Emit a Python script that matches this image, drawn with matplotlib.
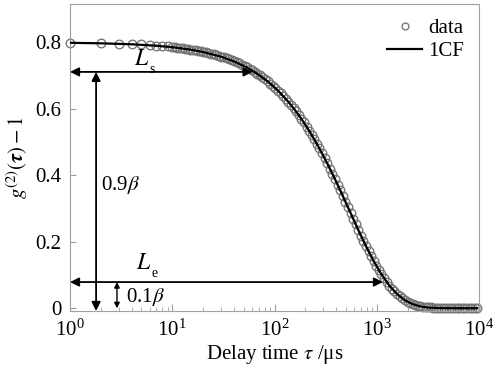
import numpy as np
import matplotlib
matplotlib.use('Agg')
import matplotlib.pyplot as plt
from matplotlib.ticker import FuncFormatter, LogLocator

plt.rcParams['font.family'] = ['Liberation Serif', 'DejaVu Serif']
plt.rcParams['mathtext.fontset'] = 'stix'

# measured correlation data, delay time in us
tau_data = [1, 2, 3, 4, 5, 6, 7, 8, 9, 10, 10.6, 11.2, 11.9, 12.6, 13.4, 14.2, 15, 15.9, 16.9, 17.9,
            19, 20.1, 21.3, 22.6, 24, 25.4, 26.9, 28.5, 30.2, 32, 34, 36, 38, 40, 43, 45, 48, 51, 54, 57,
            60, 64, 68, 72, 76, 81, 86, 91, 96, 102, 108, 115, 122, 129, 137, 145, 154, 163, 173, 183,
            194, 206, 218, 231, 245, 260, 275, 292, 309, 328, 348, 368, 390, 414, 439, 465, 493, 522, 554, 587,
            622, 659, 699, 741, 785, 832, 882, 935, 991, 1050, 1110, 1180, 1250, 1330, 1410, 1490, 1580, 1680, 1780, 1880,
            2000, 2120, 2240, 2380, 2520, 2670, 2830, 3000, 3180, 3370, 3570, 3790, 4010, 4250, 4510, 4780, 5070, 5370, 5690, 6030,
            6400, 6780, 7190, 7620, 8080, 8560, 9070, 9620]
g_data = [0.797, 0.799, 0.796, 0.795, 0.794, 0.792, 0.790, 0.789, 0.788, 0.786, 0.785, 0.784, 0.782, 0.782, 0.781, 0.779, 0.778, 0.777, 0.776, 0.774,
          0.773, 0.771, 0.770, 0.768, 0.766, 0.764, 0.762, 0.760, 0.757, 0.755, 0.752, 0.749, 0.746, 0.744, 0.740, 0.737, 0.733, 0.729, 0.725, 0.721,
          0.717, 0.711, 0.706, 0.701, 0.695, 0.689, 0.683, 0.676, 0.670, 0.663, 0.655, 0.647, 0.638, 0.630, 0.621, 0.612, 0.602, 0.592, 0.581, 0.570,
          0.559, 0.546, 0.534, 0.521, 0.508, 0.494, 0.481, 0.466, 0.451, 0.436, 0.420, 0.405, 0.389, 0.372, 0.355, 0.338, 0.321, 0.304, 0.287, 0.270,
          0.253, 0.236, 0.219, 0.203, 0.187, 0.171, 0.156, 0.142, 0.128, 0.115, 0.102, 0.090, 0.079, 0.068, 0.059, 0.051, 0.043, 0.036, 0.030, 0.025,
          0.020, 0.016, 0.013, 0.010, 0.008, 0.006, 0.005, 0.004, 0.003, 0.003, 0.002, 0.002, 0.001, 0.002, 0.001, 0.000, 0.001, 0.002, 0.000, 0.001,
          0.002, 0.000, 0.001, 0.002, 0.001, 0.000, 0.001, 0.002]

# single-component fit (1CF)
tau_fit = [1, 2, 4, 7, 10, 15, 20.1, 30.2, 40, 54, 68, 86, 108, 137, 163, 194, 231, 275, 328, 390,
           465, 554, 659, 785, 935, 1110, 1330, 1580, 1880, 2240, 2670, 3180, 3790, 4510, 5370, 6400, 7620, 9620]
g_fit = [0.7985, 0.7970, 0.7941, 0.7897, 0.7853, 0.7781, 0.7708, 0.7565, 0.7429, 0.7239, 0.7053, 0.6822, 0.6550, 0.6207, 0.5915, 0.5586, 0.5215, 0.4808, 0.4358, 0.3886,
         0.3382, 0.2868, 0.2361, 0.1870, 0.1416, 0.1024, 0.0681, 0.0429, 0.0246, 0.0126, 0.0057, 0.0023, 0.0010, 0.0006, 0.0004, 0.0003, 0.0003, 0.0003]

# marker levels for Ls / Le
y_09 = 0.711
y_01 = 0.079
tau_s = 61
tau_e = 1150

fig = plt.figure(figsize=(4.95, 3.7), dpi=100)
ax = fig.add_axes([0.1414, 0.1595, 0.8263, 0.8295])

ax.plot(tau_data, g_data, 'o', mfc='none', mec='#747474', mew=0.95, ms=6.2,
        clip_on=False, label='data', zorder=2)
ax.plot(tau_fit, g_fit, '-', color='k', lw=1.6, label='1CF', zorder=3)

ax.set_xscale('log')
ax.set_xlim(1, 1e4)
ax.set_ylim(-0.008, 0.915)
ax.set_yticks([0, 0.2, 0.4, 0.6, 0.8])
ax.yaxis.set_major_formatter(FuncFormatter(lambda v, p: '0' if v == 0 else '%.1f' % v))
ax.xaxis.set_minor_locator(LogLocator(base=10, subs=np.arange(2, 10)))

for s in ax.spines.values():
    s.set_color('#a0a0a0')
    s.set_linewidth(0.8)
ax.tick_params(axis='both', which='both', direction='in', colors='#a0a0a0',
               labelcolor='k', labelsize=15, top=False, right=False)
ax.tick_params(axis='x', which='major', length=5, pad=6)
ax.tick_params(axis='x', which='minor', length=3)
ax.tick_params(axis='y', which='major', length=4, pad=6)

ax.set_xlabel('Delay time $\\tau$ /μs', fontsize=15, labelpad=2)
ax.set_ylabel('$g^{(2)}(\\boldsymbol{\\tau})-1$', fontsize=15, labelpad=4)

arr = dict(arrowstyle='<|-|>', color='k', lw=1.3, mutation_scale=13, shrinkA=0, shrinkB=0)
ax.annotate('', xy=(1, y_09), xytext=(tau_s, y_09), arrowprops=arr)
ax.annotate('', xy=(1, y_01), xytext=(tau_e, y_01), arrowprops=arr)
ax.annotate('', xy=(1.8, -0.008), xytext=(1.8, y_09), arrowprops=arr)
ax.annotate('', xy=(2.88, 0.0), xytext=(2.88, y_01),
            arrowprops=dict(arrowstyle='<|-|>', color='k', lw=1.0, mutation_scale=8,
                            shrinkA=0, shrinkB=0))

# italic L with a small upright subscript
for x, y, sub in [(5.0, 0.748, 's'), (5.2, 0.134, 'e')]:
    ax.text(x, y, '$L$', fontsize=17, ha='center', va='center')
    ax.annotate(sub, xy=(x, y), xytext=(6, -7), textcoords='offset points',
                fontsize=10, ha='left', va='center')
ax.text(2.0, 0.37, '0.9$\\beta$', fontsize=15, ha='left', va='center')
ax.text(3.5, 0.035, '0.1$\\beta$', fontsize=15, ha='left', va='center')

leg = ax.legend(loc='upper right', frameon=False, fontsize=15, handlelength=1.7,
                handletextpad=0.3, labelspacing=0.15, borderaxespad=0.3, markerscale=0.8)

fig.savefig('out.png', dpi=100)
